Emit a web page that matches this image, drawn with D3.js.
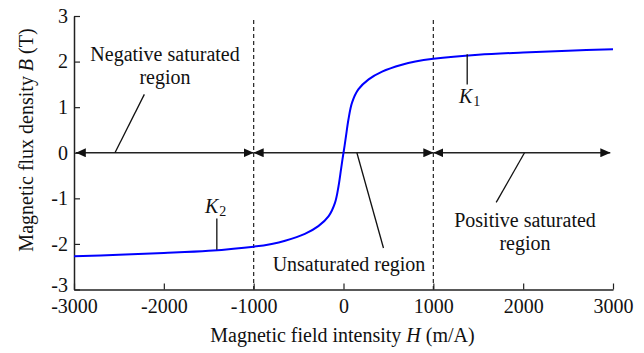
<!DOCTYPE html>
<html>
<head>
<meta charset="utf-8">
<script src="https://cdn.jsdelivr.net/npm/d3@7"></script>
<style>
  body { margin: 0; background: #fff; }
  svg text { font-family: "Liberation Serif", "Times New Roman", serif; fill: #111; }
</style>
</head>
<body>
<svg id="chart"></svg>
<script>
// B-H curve
const fieldH = [-3000, -2500, -2000, -1500, -1000, -800, -650, -430, -280, -165, -95, -55, -28, -12, 0,
                12, 28, 55, 95, 165, 280, 430, 650, 800, 1000, 1500, 2000, 2500, 3000];
const fluxB = [-2.27, -2.24, -2.20, -2.15, -2.06, -2.00, -1.93, -1.78, -1.61, -1.39, -1.10, -0.73, -0.37, -0.15, 0,
               0.15, 0.37, 0.73, 1.10, 1.39, 1.61, 1.78, 1.93, 2.00, 2.06, 2.15, 2.20, 2.24, 2.27];
const xTicks = [-3000, -2000, -1000, 0, 1000, 2000, 3000];
const yTicks = [-3, -2, -1, 0, 1, 2, 3];
const boundaries = [-1000, 1000];
const arrowSegments = [[-2980, -1000], [-1000, 1000], [1000, 2970]];

const width = 644, height = 353;
const margin = {top: 16, right: 31, bottom: 63.5, left: 74};
const innerW = width - margin.left - margin.right;
const innerH = height - margin.top - margin.bottom;

const svg = d3.select('#chart').attr('width', width).attr('height', height);
const chart = svg.append('g').attr('transform', `translate(${margin.left},${margin.top})`);

const xScale = d3.scaleLinear().domain([-3000, 3000]).range([0, innerW]);
const yScale = d3.scaleLinear().domain([-3, 3]).range([innerH, 0]);

// arrow head marker
svg.append('defs').append('marker')
    .attr('id', 'head')
    .attr('viewBox', '0 0 10 9')
    .attr('refX', 10).attr('refY', 4.5)
    .attr('markerWidth', 10).attr('markerHeight', 9)
    .attr('markerUnits', 'userSpaceOnUse')
    .attr('orient', 'auto-start-reverse')
  .append('path')
    .attr('d', 'M0,0L10,4.5L0,9Z')
    .attr('fill', '#111');

// axes, ticks pointing inward
const xAxis = d3.axisBottom(xScale).tickValues(xTicks).tickFormat(d => String(d))
    .tickSizeInner(-6).tickSizeOuter(0).tickPadding(9);
const yAxis = d3.axisLeft(yScale).tickValues(yTicks).tickFormat(d => String(d))
    .tickSizeInner(-6).tickSizeOuter(0).tickPadding(6);

const xAxisG = chart.append('g')
    .attr('transform', `translate(0,${innerH})`)
    .call(xAxis);
const yAxisG = chart.append('g').call(yAxis);

[xAxisG, yAxisG].forEach(g => {
  g.select('.domain').attr('stroke', '#222').attr('stroke-width', 1.5);
  g.selectAll('.tick line').attr('stroke', '#222').attr('stroke-width', 1.2);
  g.selectAll('.tick text').attr('font-size', 20).attr('fill', '#111')
    .style('font-family', '"Liberation Serif", serif');
});
// lowest y label sits just above the x labels
yAxisG.selectAll('.tick text').attr('dy', d => d === -3 ? '0.08em' : '0.32em');

// dashed region boundaries
chart.selectAll('.boundary')
  .data(boundaries)
  .join('line')
    .attr('class', 'boundary')
    .attr('x1', d => xScale(d)).attr('x2', d => xScale(d))
    .attr('y1', yScale(2.91)).attr('y2', innerH)
    .attr('stroke', '#222')
    .attr('stroke-width', 1.2)
    .attr('stroke-dasharray', '4,3');

// double-headed arrows along B = 0
chart.selectAll('.span-arrow')
  .data(arrowSegments)
  .join('line')
    .attr('class', 'span-arrow')
    .attr('x1', d => xScale(d[0])).attr('x2', d => xScale(d[1]))
    .attr('y1', yScale(0)).attr('y2', yScale(0))
    .attr('stroke', '#222')
    .attr('stroke-width', 1.5)
    .attr('marker-start', 'url(#head)')
    .attr('marker-end', 'url(#head)');

// the B-H curve
const line = d3.line()
    .x((d, i) => xScale(fieldH[i]))
    .y(d => yScale(d))
    .curve(d3.curveCatmullRom.alpha(0.5));

chart.append('path')
    .datum(fluxB)
    .attr('d', line)
    .attr('fill', 'none')
    .attr('stroke', '#0000ff')
    .attr('stroke-width', 2);

// leader lines (in data coordinates)
const leaders = [
  [[-2217, 1.28], [-2544, 0]],
  [[1700, -1.09], [2015, 0]],
  [[149, 0], [445, -2.09]],
  [[1377, 2.16], [1377, 1.5]],
  [[-1410, -1.44], [-1410, -2.13]]
];

chart.selectAll('.leader')
  .data(leaders)
  .join('line')
    .attr('class', 'leader')
    .attr('x1', d => xScale(d[0][0])).attr('y1', d => yScale(d[0][1]))
    .attr('x2', d => xScale(d[1][0])).attr('y2', d => yScale(d[1][1]))
    .attr('stroke', '#111')
    .attr('stroke-width', 1.3);

// region labels
function label(lines, xPix, yPix) {
  const t = chart.append('text')
      .attr('text-anchor', 'middle')
      .attr('font-size', 20);
  lines.forEach((s, i) => {
    t.append('tspan')
      .attr('x', xPix - margin.left)
      .attr('y', yPix - margin.top + i * 23.3)
      .text(s);
  });
}
label(['Negative saturated', 'region'], 165, 61);
label(['Positive saturated', 'region'], 525, 227);
label(['Unsaturated region'], 349, 271);

// K labels
function kLabel(sub, xPix, yPix) {
  const t = chart.append('text').attr('font-size', 20)
      .attr('x', xPix - margin.left).attr('y', yPix - margin.top);
  t.append('tspan').attr('font-style', 'italic').text('K');
  t.append('tspan').attr('font-size', 14).attr('dy', 3).attr('dx', 1).text(sub);
}
kLabel('1', 459, 103);
kLabel('2', 205, 213);

// axis titles
const xTitle = svg.append('text')
    .attr('x', 342.5)
    .attr('y', 342)
    .attr('text-anchor', 'middle')
    .attr('font-size', 20);
xTitle.append('tspan').text('Magnetic field intensity ');
xTitle.append('tspan').attr('font-style', 'italic').text('H');
xTitle.append('tspan').text(' (m/A)');

const yTitle = svg.append('text')
    .attr('transform', 'translate(33,140) rotate(-90)')
    .attr('text-anchor', 'middle')
    .attr('font-size', 20);
yTitle.append('tspan').text('Magnetic flux density ');
yTitle.append('tspan').attr('font-style', 'italic').text('B');
yTitle.append('tspan').text(' (T)');
</script>
</body>
</html>
